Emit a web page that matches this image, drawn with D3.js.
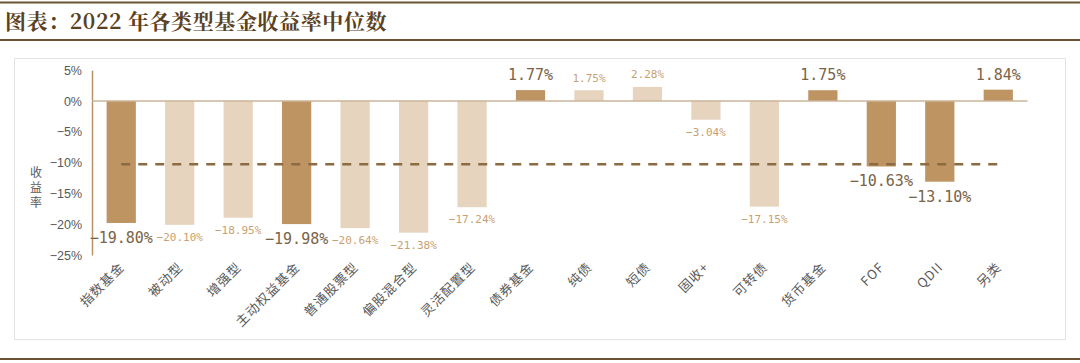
<!DOCTYPE html>
<html>
<head>
<meta charset="utf-8">
<script src="https://cdn.jsdelivr.net/npm/d3@7"></script>
<style>
  body { margin: 0; background: #fff; }
  svg { display: block; }
</style>
</head>
<body>
<div id="chart"></div>
<script>
// 2022 fund type median returns
var categories = ["指数基金", "被动型", "增强型", "主动权益基金", "普通股票型", "偏股混合型", "灵活配置型",
  "债券基金", "纯债", "短债", "固收+", "可转债", "货币基金", "FOF", "QDII", "另类"];
var returns = [-19.80, -20.10, -18.95, -19.98, -20.64, -21.38, -17.24,
  1.77, 1.75, 2.28, -3.04, -17.15, 1.75, -10.63, -13.10, 1.84];
// main categories drawn dark, sub-categories light
var isMain = [true, false, false, true, false, false, false,
  true, false, false, false, false, true, true, true, true];
var yTicks = [5, 0, -5, -10, -15, -20, -25];
var medianLine = -10.27;

var W = 1080, H = 363;
var svg = d3.select("#chart").append("svg")
  .attr("width", W)
  .attr("height", H);

var brown = "#6b5233";
var dark = "#bf9463", light = "#e6d4be";

// frame lines and title
svg.append("line").attr("x1", 0).attr("x2", W).attr("y1", 2.5).attr("y2", 2.5)
  .attr("stroke", brown).attr("stroke-width", 2);
svg.append("line").attr("x1", 0).attr("x2", W).attr("y1", 40).attr("y2", 40)
  .attr("stroke", brown).attr("stroke-width", 2);
svg.append("line").attr("x1", 0).attr("x2", W).attr("y1", 359).attr("y2", 359)
  .attr("stroke", brown).attr("stroke-width", 2);
svg.append("text")
  .attr("x", 5).attr("y", 29)
  .attr("font-family", "'Noto Serif CJK SC', 'Noto Sans CJK SC', serif")
  .attr("font-weight", "bold")
  .attr("font-size", 21)
  .attr("letter-spacing", 0.6)
  .attr("fill", "#5a4122")
  .text("图表：2022 年各类型基金收益率中位数");

// chart box
svg.append("rect")
  .attr("x", 14.5).attr("y", 58.5).attr("width", 1051).attr("height", 281)
  .attr("fill", "none").attr("stroke", "#e3e3e3");

var x = d3.scaleBand()
  .domain(categories)
  .range([92, 1027.5])
  .paddingInner(0.5)
  .paddingOuter(0.25);

var y = d3.scaleLinear()
  .domain([-25, 5])
  .range([255, 70.2]);

var font = "'Noto Sans CJK SC', 'DejaVu Sans', sans-serif";

// y axis
var yAxis = d3.axisLeft(y)
  .tickValues(yTicks)
  .tickSize(0)
  .tickPadding(10)
  .tickFormat(function(d) { return (d < 0 ? "\u2212" + Math.abs(d) : d) + "%"; });

var gy = svg.append("g")
  .attr("transform", "translate(92,0)")
  .call(yAxis);
gy.select(".domain").attr("stroke", "#b8926a").attr("stroke-width", 1.5);
gy.selectAll("text")
  .attr("font-family", "'Liberation Sans', Arial, sans-serif")
  .attr("font-size", 12.5)
  .attr("fill", "#595959");

// y title, stacked vertical
svg.append("g").selectAll("text")
  .data(["收", "益", "率"])
  .enter().append("text")
  .attr("x", 36)
  .attr("y", function(d, i) { return 177 + i * 15; })
  .attr("text-anchor", "middle")
  .attr("font-family", font)
  .attr("font-size", 12)
  .attr("fill", "#595959")
  .text(function(d) { return d; });

// bars
svg.selectAll(".bar")
  .data(returns)
  .enter().append("rect")
  .attr("class", "bar")
  .attr("x", function(d, i) { return x(categories[i]); })
  .attr("width", x.bandwidth())
  .attr("y", function(d) { return d > 0 ? y(d) : y(0); })
  .attr("height", function(d) { return Math.abs(y(d) - y(0)); })
  .attr("fill", function(d, i) { return isMain[i] ? dark : light; });

// zero line
svg.append("line")
  .attr("x1", 92).attr("x2", x.range()[1])
  .attr("y1", y(0)).attr("y2", y(0))
  .attr("stroke", "#cbb598").attr("stroke-width", 1.5);

// median dashed line
svg.append("line")
  .attr("x1", x(categories[0]) + x.bandwidth() / 2)
  .attr("x2", x(categories[categories.length - 1]) + x.bandwidth() / 2)
  .attr("y1", y(medianLine)).attr("y2", y(medianLine))
  .attr("stroke", "#8c6b43")
  .attr("stroke-width", 2.5)
  .attr("stroke-dasharray", "9,8");

// value labels
svg.selectAll(".val")
  .data(returns)
  .enter().append("text")
  .attr("class", "val")
  .attr("x", function(d, i) { return x(categories[i]) + x.bandwidth() / 2; })
  .attr("y", function(d, i) {
    if (d > 0) return y(d) - (isMain[i] ? 10 : 8.5);
    return y(d) + (isMain[i] ? 20 : 16);
  })
  .attr("text-anchor", "middle")
  .attr("font-family", "'DejaVu Sans Mono', monospace")
  .attr("font-size", function(d, i) { return isMain[i] ? 15 : 11; })
  .attr("fill", function(d, i) { return isMain[i] ? "#7a6448" : "#c9a170"; })
  .text(function(d) { return (d < 0 ? "\u2212" : "") + Math.abs(d).toFixed(2) + "%"; });

// x labels, rotated
svg.selectAll(".xl")
  .data(categories)
  .enter().append("text")
  .attr("class", "xl")
  .attr("transform", function(d) {
    return "translate(" + (x(d) + x.bandwidth() / 2 + 4) + ",268) rotate(-45)";
  })
  .attr("text-anchor", "end")
  .attr("font-family", font)
  .attr("font-size", 13)
  .attr("letter-spacing", 1)
  .attr("fill", "#595959")
  .text(function(d) { return d; });
</script>
</body>
</html>
